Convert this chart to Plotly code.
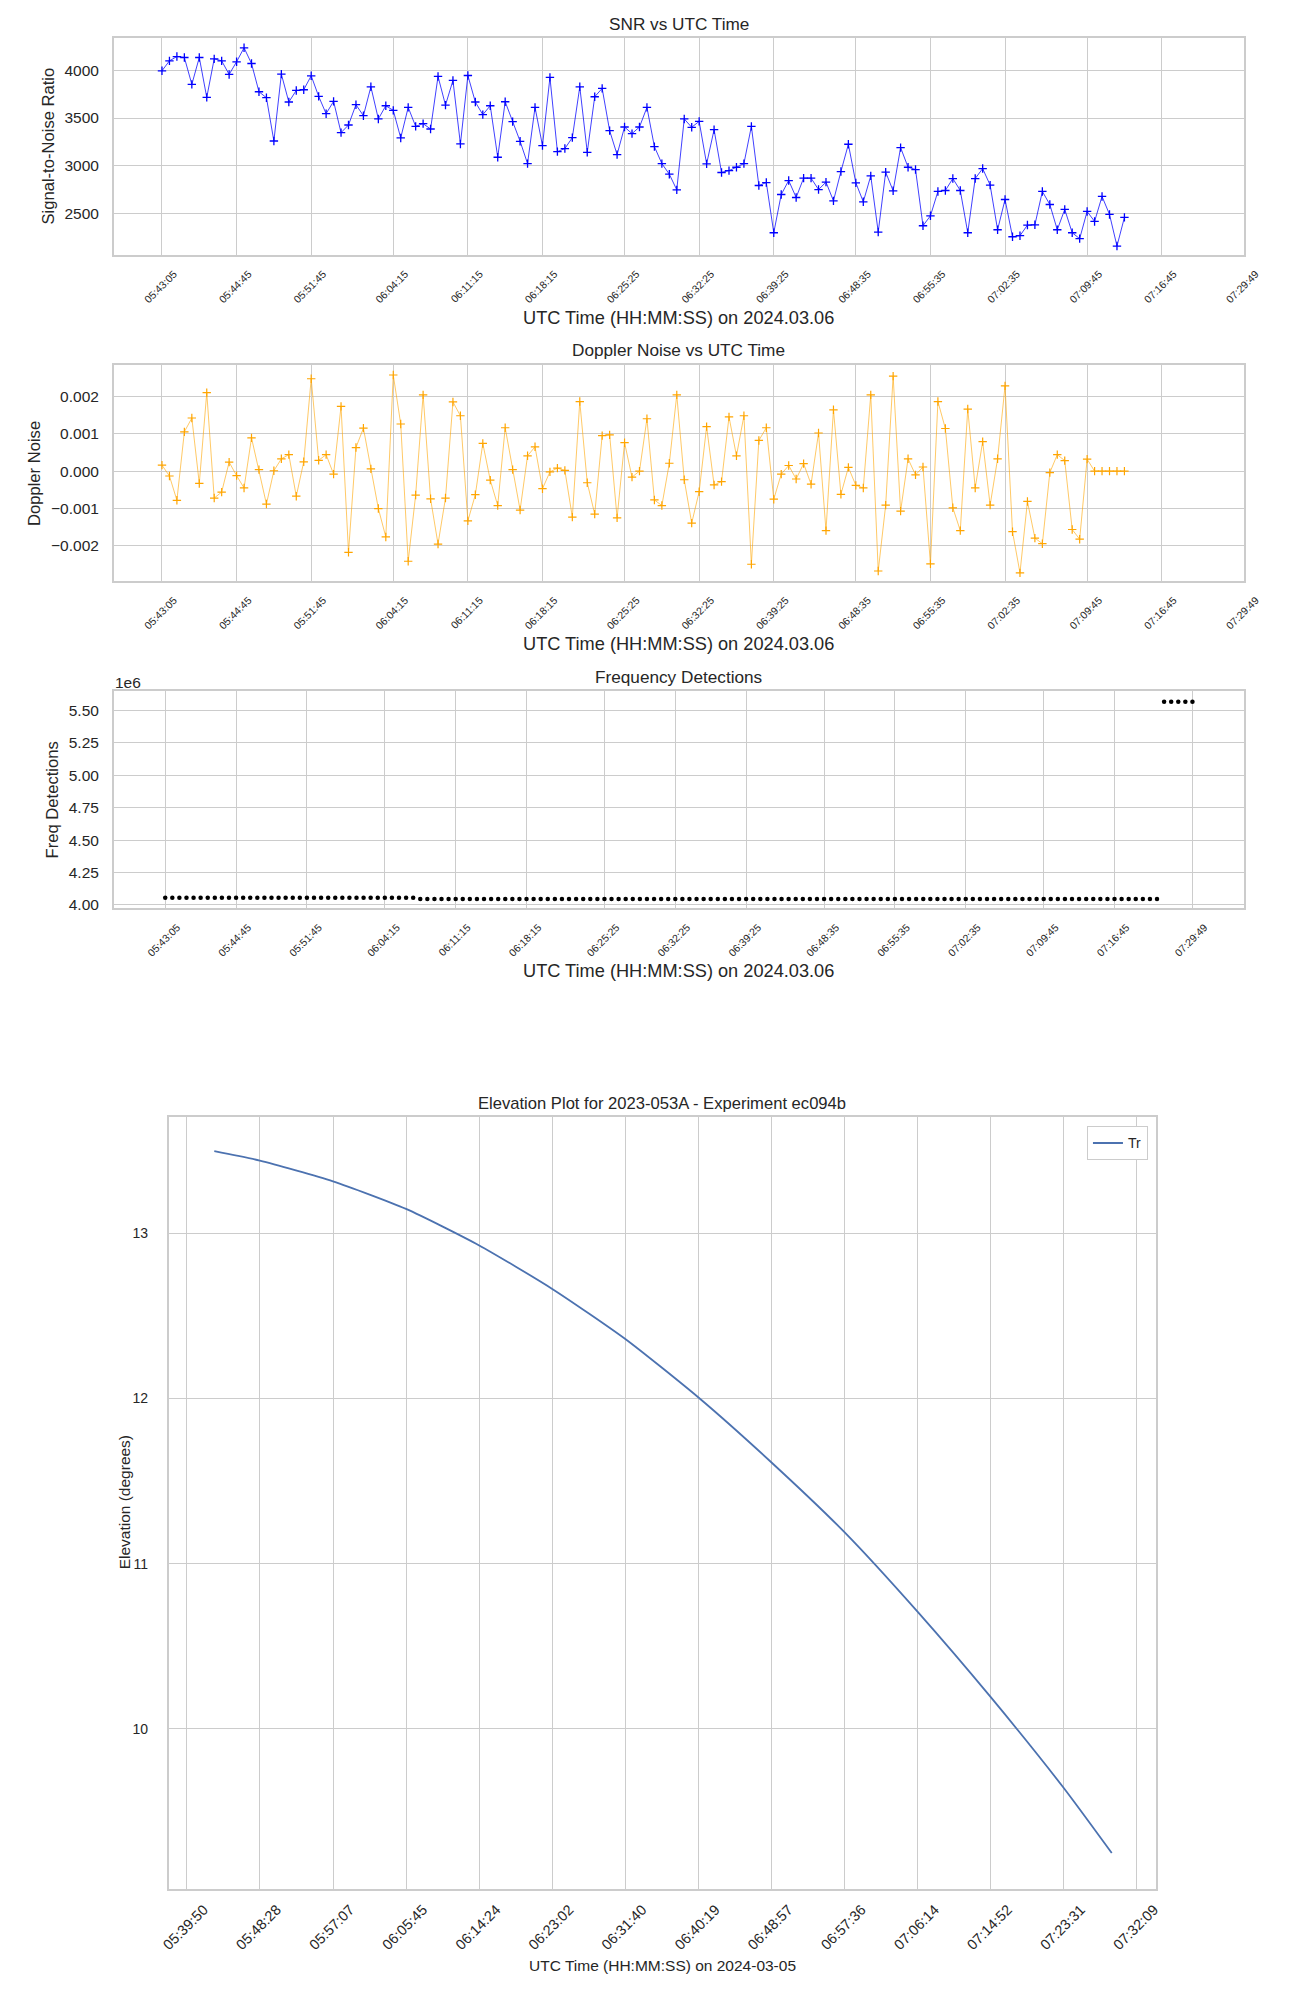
import plotly.graph_objects as go

# ---------------- data ----------------
tick_labels = ["05:43:05", "05:44:45", "05:51:45", "06:04:15", "06:11:15", "06:18:15",
               "06:25:25", "06:32:25", "06:39:25", "06:48:35", "06:55:35", "07:02:35",
               "07:09:45", "07:16:45", "07:29:49"]
tick_index = [0, 10, 20, 31, 41, 51, 62, 72, 82, 93, 103, 113, 124, 134, 145]

snr = [3993, 4097, 4142, 4132, 3851, 4132, 3715, 4118, 4097, 3955,
       4087, 4233, 4069, 3774, 3712, 3260, 3958, 3667, 3788, 3795,
       3941, 3726, 3545, 3674, 3347, 3427, 3639, 3524, 3826, 3490,
       3628, 3580, 3292, 3611, 3413, 3441, 3385, 3934, 3635, 3892,
       3229, 3944, 3667, 3535, 3628, 3090, 3670, 3462, 3257, 3024,
       3611, 3212, 3924, 3149, 3181, 3295, 3826, 3142, 3722, 3809,
       3368, 3118, 3406, 3337, 3406, 3611, 3201, 3024, 2913, 2750,
       3490, 3403, 3465, 3021, 3378, 2931, 2951, 2986, 3024, 3413,
       2795, 2826, 2302, 2701, 2847, 2670, 2872, 2872, 2753, 2830,
       2635, 2941, 3226, 2823, 2625, 2896, 2309, 2934, 2740, 3191,
       2986, 2962, 2375, 2479, 2733, 2743, 2868, 2743, 2302, 2868,
       2972, 2799, 2333, 2649, 2260, 2271, 2382, 2385, 2733, 2597,
       2333, 2545, 2302, 2240, 2524, 2420, 2681, 2493, 2163, 2462]

doppler = [0.00016, -0.00013, -0.00078, 0.00105, 0.00142, -0.00033, 0.00210, -0.00072, -0.00056, 0.00024,
           -0.00012, -0.00045, 0.00089, 0.00004, -0.00088, 0.00001, 0.00033, 0.00044, -0.00067, 0.00025,
           0.00247, 0.00029, 0.00044, -0.00008, 0.00173, -0.00217, 0.00063, 0.00115, 0.00006, -0.00100,
           -0.00176, 0.00257, 0.00126, -0.00241, -0.00064, 0.00204, -0.00074, -0.00195, -0.00072, 0.00185,
           0.00148, -0.00133, -0.00063, 0.00074, -0.00024, -0.00092, 0.00116, 0.00004, -0.00104, 0.00041,
           0.00065, -0.00047, -0.00002, 0.00008, 0.00002, -0.00123, 0.00186, -0.00031, -0.00115, 0.00095,
           0.00097, -0.00125, 0.00076, -0.00016, 0.00000, 0.00140, -0.00077, -0.00092, 0.00021, 0.00204,
           -0.00023, -0.00139, -0.00055, 0.00119, -0.00037, -0.00028, 0.00145, 0.00041, 0.00148, -0.00249,
           0.00082, 0.00116, -0.00075, -0.00008, 0.00015, -0.00021, 0.00020, -0.00035, 0.00102, -0.00159,
           0.00164, -0.00062, 0.00010, -0.00038, -0.00045, 0.00204, -0.00267, -0.00091, 0.00254, -0.00107,
           0.00033, -0.00010, 0.00011, -0.00248, 0.00186, 0.00114, -0.00098, -0.00159, 0.00166, -0.00045,
           0.00079, -0.00091, 0.00033, 0.00228, -0.00162, -0.00272, -0.00081, -0.00179, -0.00194, -0.00004,
           0.00044, 0.00028, -0.00156, -0.00182, 0.00032, 0.00000, 0.00000, 0.00000, 0.00000, 0.00000]

freq = [4054000, 4054000, 4054000, 4054000, 4054000, 4054000, 4054000, 4054000, 4054000, 4054000,
        4054000, 4054000, 4054000, 4054000, 4054000, 4054000, 4054000, 4054000, 4054000, 4054000,
        4054000, 4054000, 4054000, 4054000, 4054000, 4054000, 4054000, 4054000, 4054000, 4054000,
        4054000, 4054000, 4054000, 4054000, 4054000, 4054000, 4044000, 4044000, 4044000, 4044000,
        4044000, 4044000, 4044000, 4044000, 4044000, 4044000, 4044000, 4044000, 4044000, 4044000,
        4044000, 4044000, 4044000, 4044000, 4044000, 4044000, 4044000, 4044000, 4044000, 4044000,
        4044000, 4044000, 4044000, 4044000, 4044000, 4044000, 4044000, 4044000, 4044000, 4044000,
        4044000, 4044000, 4044000, 4044000, 4044000, 4044000, 4044000, 4044000, 4044000, 4044000,
        4044000, 4044000, 4044000, 4044000, 4044000, 4044000, 4044000, 4044000, 4044000, 4044000,
        4044000, 4044000, 4044000, 4044000, 4044000, 4044000, 4044000, 4044000, 4044000, 4044000,
        4044000, 4044000, 4044000, 4044000, 4044000, 4044000, 4044000, 4044000, 4044000, 4044000,
        4044000, 4044000, 4044000, 4044000, 4044000, 4044000, 4044000, 4044000, 4044000, 4044000,
        4044000, 4044000, 4044000, 4044000, 4044000, 4044000, 4044000, 4044000, 4044000, 4044000,
        4044000, 4044000, 4044000, 4044000, 4044000, 4044000, 4044000, 4044000, 4044000, 4044000,
        4044000, 5569000, 5569000, 5569000, 5569000, 5569000]

elev_time = ["2024-03-05 05:43:05", "2024-03-05 05:48:28", "2024-03-05 05:57:07",
             "2024-03-05 06:05:45", "2024-03-05 06:14:24", "2024-03-05 06:23:02",
             "2024-03-05 06:31:40", "2024-03-05 06:40:19", "2024-03-05 06:48:57",
             "2024-03-05 06:57:36", "2024-03-05 07:06:14", "2024-03-05 07:14:52",
             "2024-03-05 07:23:31", "2024-03-05 07:29:10"]
elevation = [13.495, 13.438, 13.313, 13.146, 12.925, 12.662, 12.359,
             12.005, 11.612, 11.189, 10.708, 10.192, 9.641, 9.249]

elev_tick_labels = ["05:39:50", "05:48:28", "05:57:07", "06:05:45", "06:14:24", "06:23:02",
                    "06:31:40", "06:40:19", "06:48:57", "06:57:36", "07:06:14", "07:14:52",
                    "07:23:31", "07:32:09"]

snr_ticks = [2500, 3000, 3500, 4000]
dop_ticks = [-0.002, -0.001, 0.0, 0.001, 0.002]
dop_ticktext = ["\u22120.002", "\u22120.001", "0.000", "0.001", "0.002"]
freq_ticks = [4000000, 4250000, 4500000, 4750000, 5000000, 5250000, 5500000]
freq_ticktext = ["4.00", "4.25", "4.50", "4.75", "5.00", "5.25", "5.50"]
elev_ticks = [10, 11, 12, 13]

# ---------------- layout helpers ----------------
W, H = 1300, 2000
FONT = "Liberation Sans, Arial, sans-serif"
TXT = "#262626"
GRID = "#cccccc"


def px(x):
    return x / W


def py(y):
    return 1 - y / H


fig = go.Figure()

fig.add_trace(go.Scatter(
    x=list(range(len(snr))), y=snr, mode="lines+markers", xaxis="x", yaxis="y",
    line=dict(color="rgba(0,0,255,0.75)", width=1),
    marker=dict(symbol="cross-thin", size=6, line=dict(color="#0000ff", width=1.3)),
    showlegend=False))

fig.add_trace(go.Scatter(
    x=list(range(len(doppler))), y=doppler, mode="lines+markers", xaxis="x2", yaxis="y2",
    line=dict(color="rgba(255,165,0,0.6)", width=1),
    marker=dict(symbol="cross-thin", size=6, line=dict(color="#ffa500", width=1.2)),
    showlegend=False))

fig.add_trace(go.Scatter(
    x=list(range(len(freq))), y=freq, mode="markers", xaxis="x3", yaxis="y3",
    marker=dict(symbol="circle", size=4.5, color="black"),
    showlegend=False))

fig.add_trace(go.Scatter(
    x=elev_time, y=elevation, mode="lines", xaxis="x4", yaxis="y4",
    line=dict(color="#4c72b0", width=1.8, shape="spline", smoothing=0.6),
    name="Tr", showlegend=True))

common = dict(showline=True, mirror=True, linecolor=GRID, linewidth=1.7,
              showgrid=True, gridcolor=GRID, gridwidth=1.3, zeroline=False,
              ticks="", tickfont=dict(family=FONT, size=15.5, color=TXT))

top_x = dict(common, tickvals=tick_index, ticktext=tick_labels, tickangle=-45,
             tickfont=dict(family=FONT, size=10.5, color=TXT),
             ticklabelshift=12, ticklabelstandoff=7)

xd = [px(107), px(1260)]
fig.update_layout(
    xaxis=dict(top_x, domain=xd, anchor="y", range=[-6.45, 145]),
    yaxis=dict(common, domain=[py(255.7), py(37.7)], anchor="x", range=[2068.75, 4339.6],
               tickvals=snr_ticks, ticklabelstandoff=10),
    xaxis2=dict(top_x, domain=xd, anchor="y2", range=[-6.45, 145]),
    yaxis2=dict(common, domain=[py(582.7), py(365.7)], anchor="x2", range=[-0.002944, 0.002843],
                tickvals=dop_ticks, ticktext=dop_ticktext, ticklabelstandoff=10),
    xaxis3=dict(top_x, domain=xd, anchor="y3", range=[-7.25, 152.25]),
    yaxis3=dict(common, domain=[py(910.7), py(692.7)], anchor="x3", range=[3972000, 5652000],
                tickvals=freq_ticks, ticktext=freq_ticktext, ticklabelstandoff=10),
    xaxis4=dict(common, domain=[px(163), px(1170)], anchor="y4", type="date",
                range=["2024-03-05 05:37:42", "2024-03-05 07:34:21"],
                tickvals=["2024-03-05 " + t for t in elev_tick_labels], ticktext=elev_tick_labels,
                tickangle=-45, tickfont=dict(family=FONT, size=14.5, color=TXT),
                ticklabelshift=17, ticklabelstandoff=5),
    yaxis4=dict(common, domain=[py(1893.5), py(1119.3)], anchor="x4", range=[9.033, 13.705],
                tickvals=elev_ticks, tickfont=dict(family=FONT, size=14, color=TXT),
                ticklabelstandoff=16),
    width=W, height=H, margin=dict(l=0, r=0, t=0, b=0),
    paper_bgcolor="white", plot_bgcolor="white",
    font=dict(family=FONT, color=TXT),
    legend=dict(x=px(1162), y=py(1129), xanchor="right", yanchor="top",
                bgcolor="white", bordercolor=GRID, borderwidth=1.2,
                font=dict(family=FONT, size=14, color=TXT), itemwidth=30),
)


def ann(text, x, y, size, angle=0):
    fig.add_annotation(text=text, x=px(x), y=py(y), xref="paper", yref="paper",
                       showarrow=False, xanchor="center", yanchor="middle",
                       textangle=angle, font=dict(family=FONT, size=size, color=TXT))


# titles
ann("SNR vs UTC Time", 683.5, 24.5, 17.2)
ann("Doppler Noise vs UTC Time", 683.5, 351, 17.2)
ann("Frequency Detections", 683.5, 679, 17.2)
ann("Elevation Plot for 2023-053A - Experiment ec094b", 666.5, 1106.5, 16.6)
# x labels
ann("UTC Time (HH:MM:SS) on 2024.03.06", 683.5, 318.5, 18.2)
ann("UTC Time (HH:MM:SS) on 2024.03.06", 683.5, 646, 18.2)
ann("UTC Time (HH:MM:SS) on 2024.03.06", 683.5, 973.5, 18.2)
ann("UTC Time (HH:MM:SS) on 2024-03-05", 666.5, 1970, 15.5)
# y labels
ann("Signal-to-Noise Ratio", 40, 146.7, 16.6, -90)
ann("Doppler Noise", 25.5, 474.2, 16.6, -90)
ann("Freq Detections", 44.6, 801.7, 16.6, -90)
ann("Elevation (degrees)", 118, 1506.5, 15.5, -90)
# offset text
ann("1e6", 121.5, 684, 15.5)

fig.write_html("out.html", config={"displayModeBar": False},
               post_script="document.body.style.margin='0px';")
